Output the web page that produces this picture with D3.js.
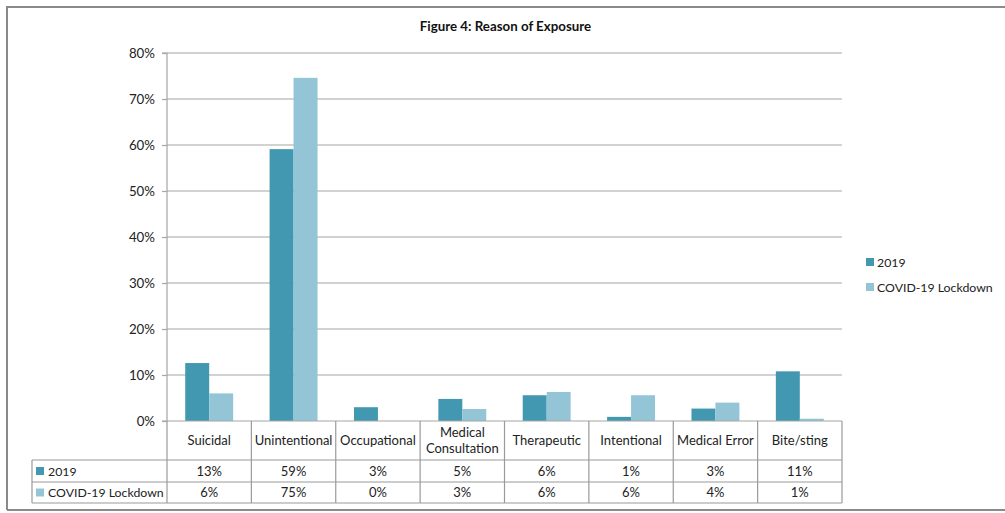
<!DOCTYPE html>
<html>
<head>
<meta charset="utf-8">
<script src="https://cdn.jsdelivr.net/npm/d3@7"></script>
<style>
  html, body { margin: 0; padding: 0; background: #fff; }
  svg { display: block; font-family: Lato, "Open Sans", sans-serif; }
</style>
</head>
<body>
<svg id="chart" width="1005" height="513"></svg>
<script>
// Reason of exposure, share of cases (%)
const categories = ["Suicidal", "Unintentional", "Occupational", "Medical\nConsultation",
                    "Therapeutic", "Intentional", "Medical Error", "Bite/sting"];
const seriesNames = ["2019", "COVID-19 Lockdown"];
const values2019 = [12.6, 59.1, 3.0, 4.8, 5.6, 0.9, 2.7, 10.8];
const valuesCovid = [6.0, 74.6, 0.0, 2.6, 6.3, 5.6, 4.0, 0.5];
const yTicks = [0, 10, 20, 30, 40, 50, 60, 70, 80];
const title = "Figure 4: Reason of Exposure";

const colors = ["#4298B0", "#93C5D7"];
const seriesValues = [values2019, valuesCovid];

const svg = d3.select("#chart");

// outer frame
svg.append("path")
  .attr("d", "M7,510 L7,7 L1005,7")
  .attr("fill", "none").attr("stroke", "#8a8a8a").attr("stroke-width", 2);
svg.append("line")
  .attr("x1", 7).attr("x2", 1005).attr("y1", 510).attr("y2", 510)
  .attr("stroke", "#8a8a8a").attr("stroke-width", 2);

const plotLeft = 167, plotRight = 842, plotTop = 53, plotBottom = 421;

const x = d3.scaleBand().domain(categories).range([plotLeft, plotRight]).paddingInner(0).paddingOuter(0);
const xs = d3.scaleBand().domain(seriesNames).range([0, x.bandwidth()]).paddingInner(0).paddingOuter(0.76);
const y = d3.scaleLinear().domain([0, 80]).range([plotBottom, plotTop]);

// title
svg.append("text")
  .attr("x", (plotLeft + plotRight) / 2 + 1).attr("y", 31)
  .attr("text-anchor", "middle")
  .attr("font-size", 13.3).attr("font-weight", "bold").attr("fill", "#111")
  .text(title);

// gridlines
svg.append("g").selectAll("line").data(yTicks.filter(d => d > 0)).join("line")
  .attr("x1", plotLeft).attr("x2", plotRight)
  .attr("y1", d => y(d)).attr("y2", d => y(d))
  .attr("stroke", "#a6a6a6").attr("stroke-width", 1.2);

// y axis
const yAxis = d3.axisLeft(y).tickValues(yTicks).tickFormat(d => d + "%").tickSize(5).tickPadding(7);
const yg = svg.append("g").attr("transform", `translate(${plotLeft},0)`).call(yAxis);
yg.select(".domain").attr("stroke", "#a6a6a6").attr("stroke-width", 1.2)
  .attr("d", `M-5,${plotTop}H0V${plotBottom}`);
yg.selectAll(".tick line").attr("stroke", "#a6a6a6").attr("stroke-width", 1.2);
yg.selectAll(".tick text").attr("font-size", 13.3).attr("fill", "#222")
  .attr("font-family", "Lato, 'Open Sans', sans-serif");

// bars
seriesNames.forEach((s, si) => {
  svg.append("g").selectAll("rect").data(seriesValues[si]).join("rect")
    .attr("x", (d, i) => x(categories[i]) + xs(s))
    .attr("width", xs.bandwidth())
    .attr("y", d => y(d))
    .attr("height", d => y(0) - y(d))
    .attr("fill", colors[si]);
});

// baseline
svg.append("line")
  .attr("x1", plotLeft - 5).attr("x2", plotRight).attr("y1", plotBottom).attr("y2", plotBottom)
  .attr("stroke", "#a6a6a6").attr("stroke-width", 1.2);

// data table
const tableLeft = 32;
const rowY = [plotBottom, 460, 482, 503];
const gridColor = "#9a9a9a";
const tg = svg.append("g");

// horizontal rules
[1, 2, 3].forEach(r => {
  tg.append("line").attr("x1", tableLeft).attr("x2", plotRight).attr("y1", rowY[r]).attr("y2", rowY[r])
    .attr("stroke", gridColor).attr("stroke-width", 1.2);
});
// vertical rules
const vx = categories.map(c => x(c)).concat([plotRight]);
tg.selectAll("line.v").data(vx).join("line").attr("class", "v")
  .attr("x1", d => d).attr("x2", d => d).attr("y1", plotBottom).attr("y2", rowY[3])
  .attr("stroke", gridColor).attr("stroke-width", 1.2);
tg.append("line").attr("x1", tableLeft).attr("x2", tableLeft).attr("y1", rowY[1]).attr("y2", rowY[3])
  .attr("stroke", gridColor).attr("stroke-width", 1.2);

// category labels
categories.forEach(c => {
  const lines = c.split("\n");
  const cx = x(c) + x.bandwidth() / 2;
  const cy = (rowY[0] + rowY[1]) / 2 + 4.5;
  const t = tg.append("text").attr("text-anchor", "middle").attr("font-size", 13).attr("fill", "#222");
  lines.forEach((ln, li) => {
    t.append("tspan").attr("x", cx)
      .attr("y", cy + (li - (lines.length - 1) / 2) * 16)
      .text(ln);
  });
});

// series rows
seriesNames.forEach((s, si) => {
  const cy = (rowY[si + 1] + rowY[si + 2]) / 2;
  tg.append("rect").attr("x", 36).attr("y", cy - 4).attr("width", 8).attr("height", 8).attr("fill", colors[si]);
  tg.append("text").attr("x", 48).attr("y", cy + 4.5).attr("font-size", 12.3).attr("fill", "#222").text(s);
  tg.selectAll(null).data(seriesValues[si]).join("text")
    .attr("x", (d, i) => x(categories[i]) + x.bandwidth() / 2)
    .attr("y", cy + 4.5)
    .attr("text-anchor", "middle").attr("font-size", 13).attr("fill", "#222")
    .text(d => Math.round(d) + "%");
});

// legend
const lg = svg.append("g");
seriesNames.forEach((s, si) => {
  const ly = 262 + si * 25;
  lg.append("rect").attr("x", 866).attr("y", ly - 4).attr("width", 8).attr("height", 8).attr("fill", colors[si]);
  lg.append("text").attr("x", 877).attr("y", ly + 4.5).attr("font-size", 12.3).attr("fill", "#222").text(s);
});
</script>
</body>
</html>
